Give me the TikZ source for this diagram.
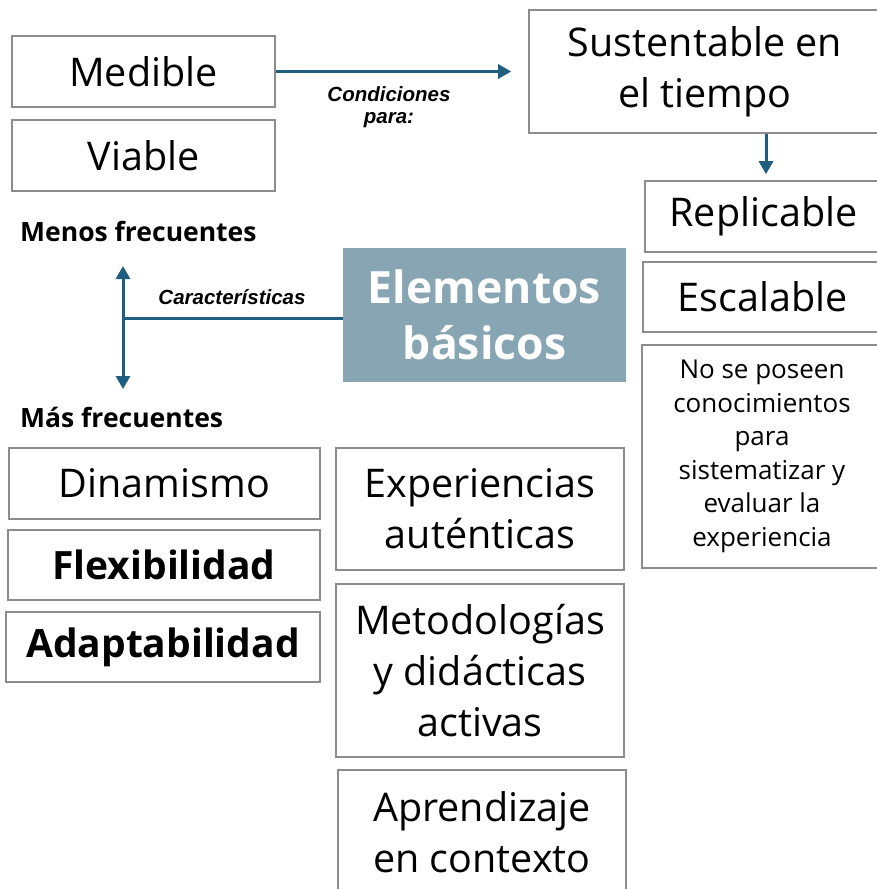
\documentclass[tikz,border=0pt]{standalone}
\usepackage{fontspec}
\setmainfont{Open Sans}
\newfontfamily\arialf{Liberation Sans}
\usetikzlibrary{arrows.meta}
\definecolor{arrowc}{HTML}{1F5E7E}
\definecolor{boxgray}{HTML}{8C8C8C}
\definecolor{elemfill}{HTML}{87A5B3}
\begin{document}
\begin{tikzpicture}[x=1pt,y=-1pt,
  box/.style={draw=boxgray,line width=1.6pt,fill=white,inner sep=0pt,align=center,
    font=\fontsize{39.5}{51}\selectfont},
  smallbox/.style={box,font=\fontsize{26}{33.5}\selectfont},
  boldbox/.style={box,font=\bfseries\fontsize{39}{51}\selectfont},
  conn/.style={draw=arrowc,line width=3pt},
  tip/.style={-{Triangle[length=13pt,width=14pt]}},
  lab/.style={inner sep=0pt,font=\arialf\bfseries\itshape\fontsize{20.5}{22.5}\selectfont,align=center},
  head/.style={inner sep=0pt,anchor=west,font=\bfseries\fontsize{26.5}{30}\selectfont}]
\useasboundingbox (0,0) rectangle (876,889);
\fill[white] (0,0) rectangle (876,889);

\node[box,minimum width=263pt,minimum height=71pt] (medible) at (143.5,71.5) {Medible};
\node[box,minimum width=263pt,minimum height=71pt] (viable) at (143.5,155.5) {Viable};
\node[box,minimum width=352pt,minimum height=123pt] (sust) at (705,71.5) {Sustentable en\\el tiempo};
\node[box,minimum width=237pt,minimum height=71pt] (repl) at (763.5,216.5) {Replicable};
\node[box,minimum width=239pt,minimum height=70pt] (esc) at (762.5,297) {Escalable};
\node[smallbox,minimum width=240pt,minimum height=223pt] (nose) at (762,456.5) {No se poseen\\conocimientos\\para\\sistematizar y\\evaluar la\\experiencia};

\node[fill=elemfill,minimum width=283pt,minimum height=134pt,inner sep=0pt,align=center,
  text=white,font=\bfseries\fontsize{44.5}{56}\selectfont] (elem) at (484.5,315) {Elementos\\básicos};

\node[head] (menos) at (20,231) {Menos frecuentes};
\node[head] (mas) at (20,417) {Más frecuentes};

\node[box,minimum width=311pt,minimum height=71pt] (dina) at (164.5,483.5) {Dinamismo};
\node[boldbox,minimum width=312pt,minimum height=70pt] (flex) at (164,565) {Flexibilidad};
\node[boldbox,minimum width=314pt,minimum height=70pt] (adap) at (163,647) {Adaptabilidad};

\node[box,minimum width=288pt,minimum height=122pt] (exper) at (480,509) {Experiencias\\auténticas};
\node[box,minimum width=288pt,minimum height=173pt] (metod) at (480,670.5) {Metodologías\\y didácticas\\activas};
\node[box,minimum width=288pt,minimum height=130pt] (apren) at (482,835) {};
\node[inner sep=0pt,align=center,font=\fontsize{39.5}{51}\selectfont] (aprentext) at (482,832) {Aprendizaje\\en contexto};

% connectors
\draw[conn,tip,shorten >=17pt] (medible.east) -- (medible.east -| sust.west);
\node[lab] (cond) at (389,107) {Condiciones\\para:};

\draw[conn,tip,shorten >=6pt] ([xshift=61pt]sust.south) -- ([xshift=61pt]sust.south |- repl.north);

\coordinate (junc) at (123,318);
\coordinate (up) at (123,266);
\coordinate (dn) at (123,389);
\draw[conn] (elem.west |- junc) -- (junc);
\draw[conn,{Triangle[length=13pt,width=14pt]}-{Triangle[length=13pt,width=14pt]}] (up) -- (dn);
\node[lab] (carac) at (232,297) {Características};
\end{tikzpicture}
\end{document}
